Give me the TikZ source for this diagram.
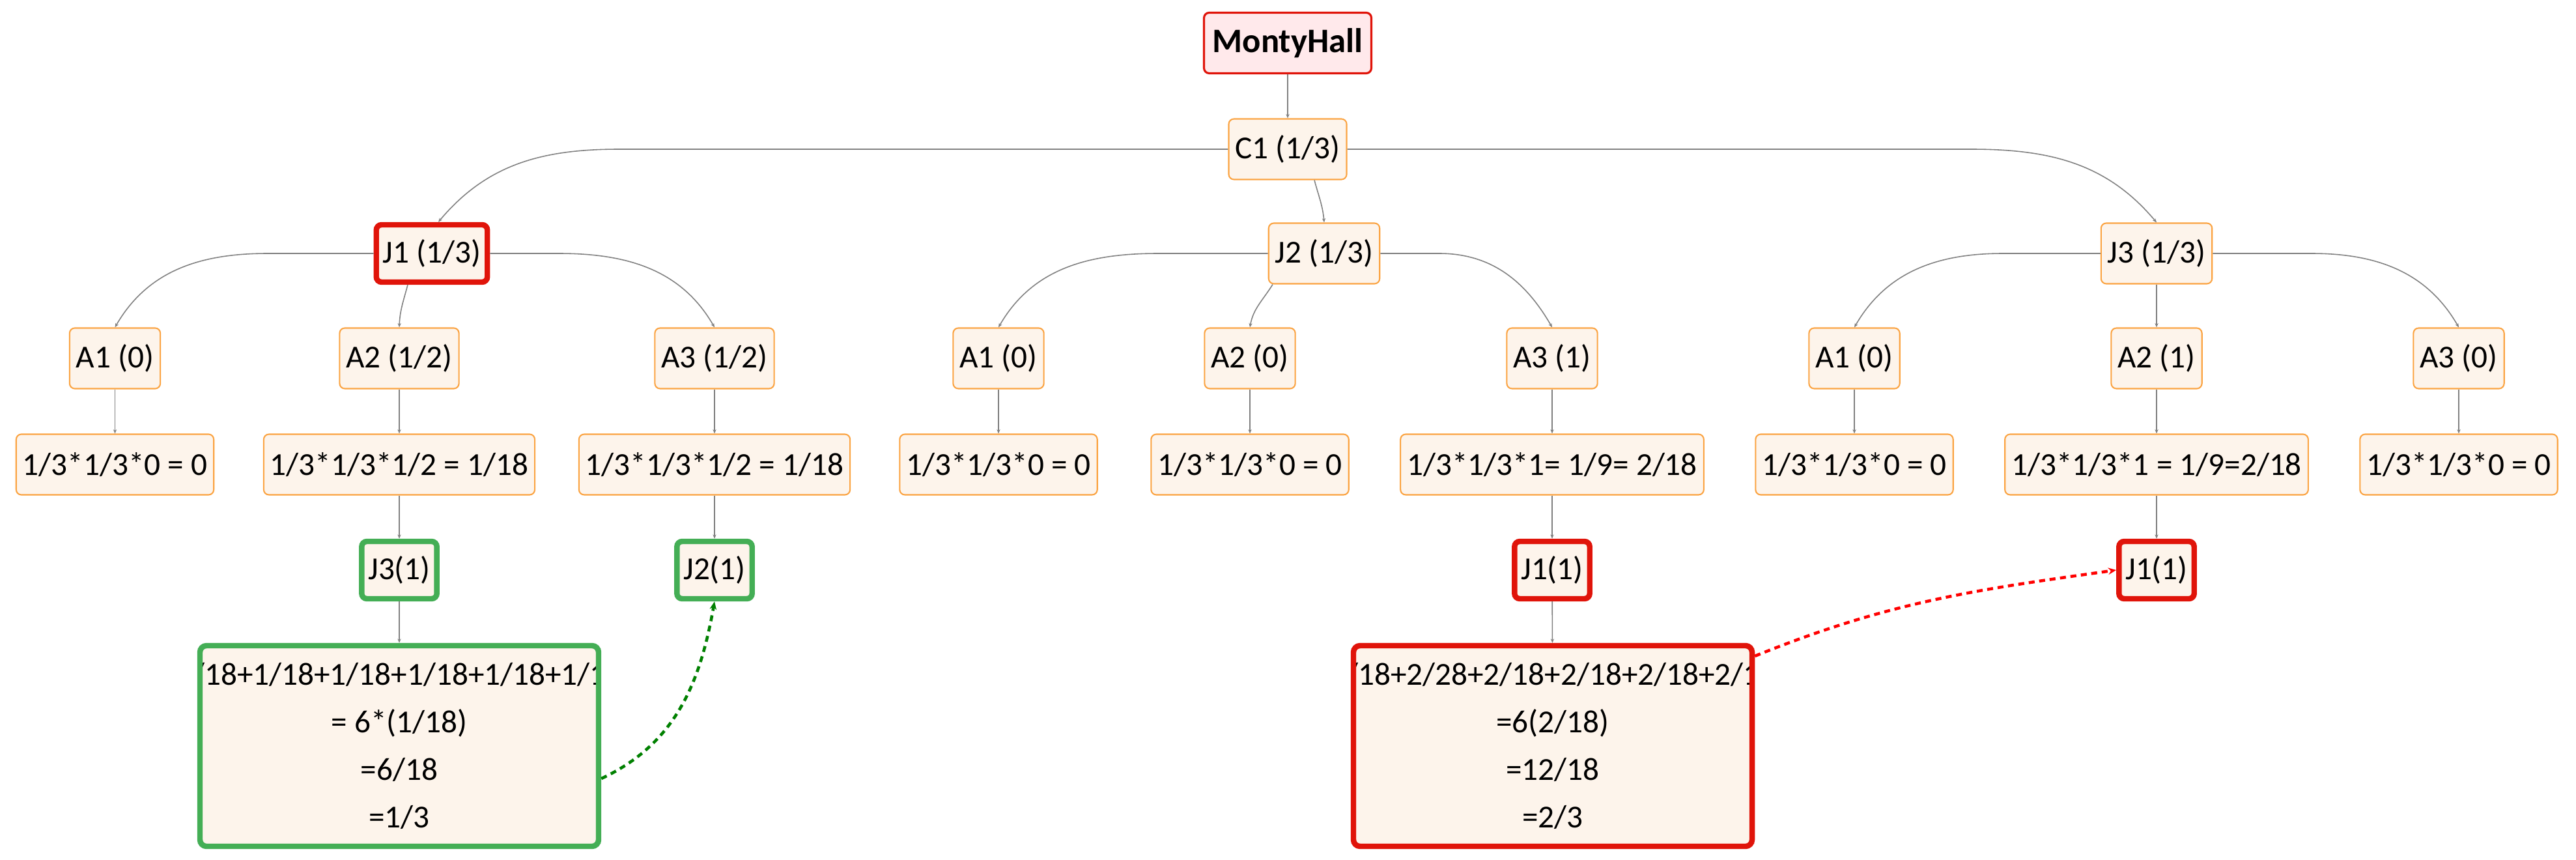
\documentclass[tikz,border=0pt]{standalone}
\usepackage{fontspec}
\setmainfont{Carlito}
\usetikzlibrary{arrows.meta}
\definecolor{cream}{HTML}{FDF4EB}
\definecolor{peach}{HTML}{FBA443}
\definecolor{hotred}{HTML}{E0140A}
\definecolor{leaf}{HTML}{44AE55}
\definecolor{blush}{HTML}{FFE9EB}
\definecolor{wire}{HTML}{808080}
\definecolor{moss}{HTML}{008000}

\begin{document}
\begin{tikzpicture}[
  box/.style={draw=peach, fill=cream, line width=0.6pt, rounded corners=0.08cm, minimum height=0.93cm, inner xsep=0.1cm, font=\fontsize{14pt}{17pt}\selectfont},
  redbox/.style={box, draw=hotred, line width=2.4pt, minimum height=0.88cm},
  greenbox/.style={box, draw=leaf, line width=2.4pt, minimum height=0.88cm},
  sumbox/.style={minimum width=6.12cm, minimum height=3.08cm, rounded corners=0.1cm},
  sumtext/.style={align=center, draw=none, fill=none, font=\fontsize{14pt}{20.7pt}\selectfont},
  edge/.style={draw=wire, line width=0.45pt, -{Stealth[length=1.8pt,width=1.5pt]}},
  link/.style={line width=1.3pt, dash pattern=on 2.6pt off 2pt, -{Stealth[length=3.5pt,width=3pt]}}
]
  \useasboundingbox (0,0) rectangle (39.55,-13.2);

  \node (MH) at (19.77,-0.66) [box, draw=hotred, fill=blush, line width=0.9pt, minimum width=2.57cm, font=\fontsize{15pt}{18pt}\selectfont\bfseries] {MontyHall};
  \node (C1) at (19.77,-2.29) [box] {C1 (1/3)};

  \node (J1) at (6.63,-3.89) [redbox] {J1 (1/3)};
  \node (J2) at (20.33,-3.89) [box] {J2 (1/3)};
  \node (J3) at (33.11,-3.89) [box] {J3 (1/3)};

  \node (A11) at (1.765,-5.50) [box] {A1 (0)};
  \node (A12) at (6.13,-5.50) [box] {A2 (1/2)};
  \node (A13) at (10.97,-5.50) [box] {A3 (1/2)};
  \node (A21) at (15.33,-5.50) [box] {A1 (0)};
  \node (A22) at (19.19,-5.50) [box] {A2 (0)};
  \node (A23) at (23.83,-5.50) [box] {A3 (1)};
  \node (A31) at (28.47,-5.50) [box] {A1 (0)};
  \node (A32) at (33.11,-5.50) [box] {A2 (1)};
  \node (A33) at (37.75,-5.50) [box] {A3 (0)};

  \node (P11) at (1.765,-7.13) [box] {1/3*1/3*0 = 0};
  \node (P12) at (6.13,-7.13) [box] {1/3*1/3*1/2 = 1/18};
  \node (P13) at (10.97,-7.13) [box] {1/3*1/3*1/2 = 1/18};
  \node (P21) at (15.33,-7.13) [box] {1/3*1/3*0 = 0};
  \node (P22) at (19.19,-7.13) [box] {1/3*1/3*0 = 0};
  \node (P23) at (23.83,-7.13) [box] {1/3*1/3*1= 1/9= 2/18};
  \node (P31) at (28.47,-7.13) [box] {1/3*1/3*0 = 0};
  \node (P32) at (33.11,-7.13) [box] {1/3*1/3*1 = 1/9=2/18};
  \node (P33) at (37.75,-7.13) [box] {1/3*1/3*0 = 0};

  \node (K12) at (6.13,-8.75) [greenbox] {J3(1)};
  \node (K13) at (10.97,-8.75) [greenbox] {J2(1)};
  \node (K23) at (23.83,-8.75) [redbox] {J1(1)};
  \node (K32) at (33.11,-8.75) [redbox] {J1(1)};

  % sums, first line is cut by the box
  \node (SG) at (6.13,-11.45) [greenbox, sumbox, path picture={
    \node [sumtext] at (path picture bounding box.center) {1/18+1/18+1/18+1/18+1/18+1/18\\= 6*(1/18)\\=6/18\\=1/3};}] {};
  \node (SR) at (23.84,-11.45) [redbox, sumbox, path picture={
    \node [sumtext] at (path picture bounding box.center) {2/18+2/28+2/18+2/18+2/18+2/18\\=6(2/18)\\=12/18\\=2/3};}] {};

  \draw[edge] (MH) -- (C1);
  \draw[edge] (C1.west) -- ++(-9.34,0) to[out=180,in=50] ([xshift=0.1cm]J1.north);
  \draw[edge] ([xshift=0.41cm]C1.south) to[out=-75,in=95] (J2.north);
  \draw[edge] (C1.east) -- ++(9.57,0) to[out=0,in=130] (J3.north);

  \draw[edge] (J1.west) -- ++(-1.62,0) to[out=180,in=60] (A11.north);
  \draw[edge] ([xshift=-0.37cm]J1.south) to[out=-105,in=88] (A12.north);
  \draw[edge] (J1.east) -- ++(1.05,0) to[out=0,in=120] (A13.north);
  \draw[edge] (J2.west) -- ++(-1.68,0) to[out=180,in=60] (A21.north);
  \draw[edge] ([xshift=-0.79cm]J2.south) to[out=-122,in=80] (A22.north);
  \draw[edge] (J2.east) -- ++(0.9,0) to[out=0,in=120] (A23.north);
  \draw[edge] (J3.west) -- ++(-1.49,0) to[out=180,in=60] (A31.north);
  \draw[edge] (J3) -- (A32);
  \draw[edge] (J3.east) -- ++(1.51,0) to[out=0,in=120] (A33.north);

  \draw[edge] (A11) -- (P11);
  \draw[edge] (A12) -- (P12);
  \draw[edge] (A13) -- (P13);
  \draw[edge] (A21) -- (P21);
  \draw[edge] (A22) -- (P22);
  \draw[edge] (A23) -- (P23);
  \draw[edge] (A31) -- (P31);
  \draw[edge] (A32) -- (P32);
  \draw[edge] (A33) -- (P33);

  \draw[edge] (P12) -- (K12);
  \draw[edge] (P13) -- (K13);
  \draw[edge] (P23) -- (K23);
  \draw[edge] (P32) -- (K32);
  \draw[edge] (K12) -- (SG);
  \draw[edge] (K23) -- (SR);

  \draw[link, draw=moss] ([yshift=-0.5cm]SG.east) to[out=25,in=-100] (K13.south);
  \draw[link, draw=red] ([yshift=1.38cm]SR.east) to[out=22,in=188] (K32.west);
\end{tikzpicture}
\end{document}
